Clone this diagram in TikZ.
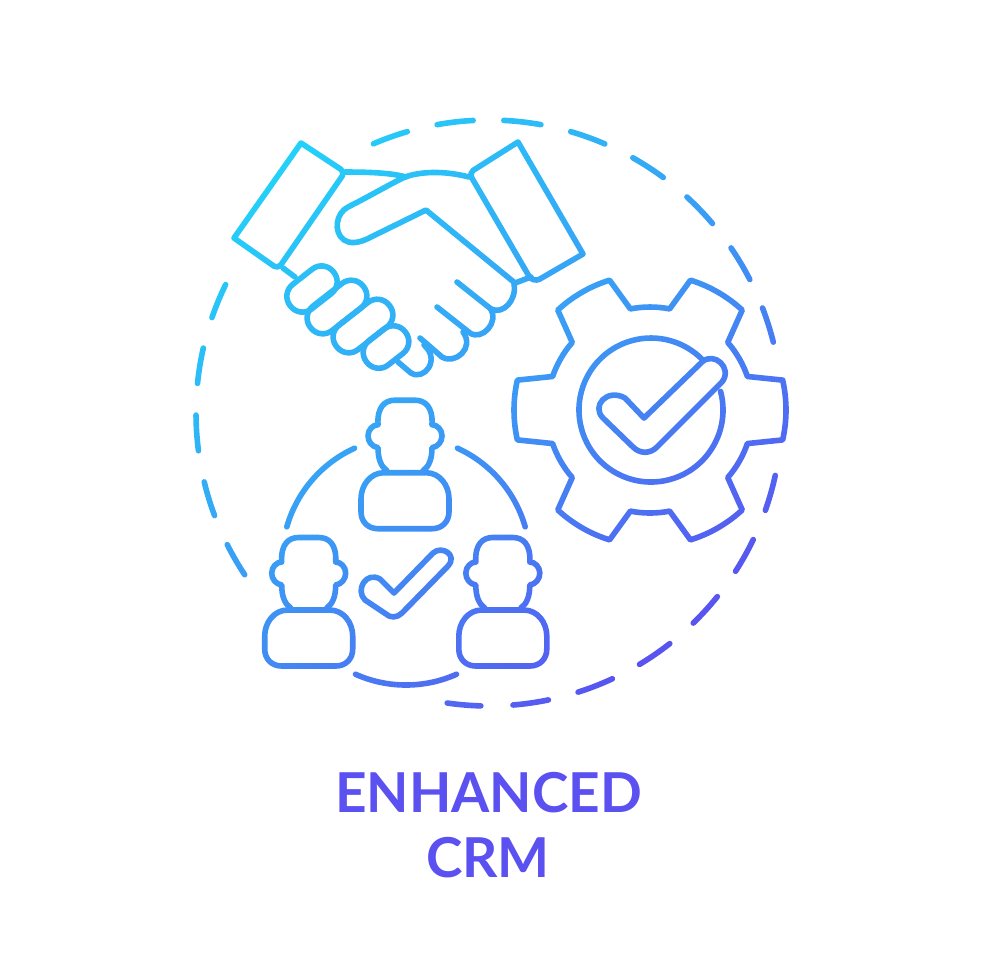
\documentclass[tikz,border=0pt]{standalone}
\usepackage{fontspec}
\setmainfont{Lato}
\usetikzlibrary{fadings}
\definecolor{gradA}{HTML}{22D3F8}
\definecolor{gradB}{HTML}{3A9CF5}
\definecolor{gradC}{HTML}{5B4FF0}
\definecolor{labelcol}{HTML}{5B50F0}
\pgfdeclarehorizontalshading{iconshade}{100bp}{color(0bp)=(gradA); color(29.6bp)=(gradA); color(46bp)=(gradB); color(62.7bp)=(gradC); color(100bp)=(gradC)}
\tikzset{ln/.style={draw=transparent!0,line width=5.6,line cap=round,line join=round}}
\newcommand\fingercap[2]{\draw[ln,shift={(#1)},rotate=38,rounded corners=15] (-#2,-15.5) rectangle (#2,15.5);}
\newcommand\personicon[2]{%
  \begin{scope}[shift={(#1,#2)}]
    % body
    \draw[ln] (-21,0) -- (21,0) .. controls (35,0) and (44,13) .. (44,26) -- (44,39) .. controls (44,49) and (37,56) .. (27,56) -- (-27,56) .. controls (-37,56) and (-44,49) .. (-44,39) -- (-44,26) .. controls (-44,13) and (-35,0) .. (-21,0) -- cycle;
    % head with ears
    \draw[ln] (-18,-2) .. controls (-24,-6) and (-27,-14) .. (-27,-25)
      .. controls (-33,-26) and (-37,-31) .. (-37,-37)
      .. controls (-37,-43) and (-32,-48) .. (-27,-48)
      .. controls (-28,-66) and (-20,-72.5) .. (-10,-72.5)
      -- (10,-72.5)
      .. controls (20,-72.5) and (28,-66) .. (27,-48)
      .. controls (32,-48) and (37,-43) .. (37,-37)
      .. controls (37,-31) and (33,-26) .. (27,-25)
      .. controls (27,-14) and (24,-6) .. (18,-2);
  \end{scope}}
\begin{tikzfadingfrompicture}[name=iconlines,x=1pt,y=-1pt]
  \fill[transparent!100] (0,0) rectangle (980,980);
  % dashed ring
  \foreach \a/\b in {-113.25/-106.2,-100.2/-93.1,-87.1/-79.8,-73.8/-66.7,-60.6/-53.5,-47.5/-40.3,-34.3/-27.1,-21/-14,12.3/19.4,25.6/32.7,38.8/45.8,51.9/59.1,65.1/72.3,78.3/85.3,91.6/98.2,146.5/153.3,159.5/166.4,172.6/179.6,185.8/192.8,199/206}
    \draw[ln,shift={(489,413)}] (\a:293) arc[start angle=\a,end angle=\b,radius=293];
  % handshake
  \draw[ln] (301,143) [rounded corners=5]-- (345,172) -- (278,269) [sharp corners]-- (234,238) -- cycle;
  \draw[ln] (345,172) .. controls (370,172) and (392,173) .. (406,177);
  \draw[ln] (283,268) -- (295,277);
  \draw[ln] (518,142) [rounded corners=5]-- (469,173) [rounded corners=8]-- (533,283) [sharp corners]-- (583,254) -- cycle;
  \draw[ln] (469,177) .. controls (450,172) and (425,170) .. (405,177) .. controls (390,184) and (370,196) .. (348,207) .. controls (336,213) and (333,232) .. (344,240) .. controls (350,244) and (358,243) .. (367,239) -- (426,210) -- (515,283) -- (531,277);
  \draw[ln] (457,282) -- (491,309) .. controls (503,315) and (517,300) .. (514,284);
  \draw[ln] (437,307) -- (470,333) .. controls (482,341) and (500,322) .. (490,308);
  \draw[ln] (420,338) -- (442,357) .. controls (455,365) and (475,348) .. (463,332);
  \draw[ln] (398,362) -- (411,373) .. controls (424,381) and (441,360) .. (424,345);
  \fingercap{312,289}{27.5}
  \fingercap{337,307}{33.5}
  \fingercap{363,326}{33.5}
  \fingercap{386,347}{24.5}
  % gear
  \draw[ln,shift={(650,410)}] (-12.7:136)
    \foreach \k in {0,60,...,300}{
      arc[start angle=\k-12.7,end angle=\k+12.7,radius=136]
      -- ({\k+19}:103)
      arc[start angle=\k+19,end angle=\k+41,radius=103]
      -- ({\k+47.3}:136)
    };
  \draw[ln,shift={(651,410)}] (-15:72) arc[start angle=-15,end angle=316,radius=72];
  \draw[ln] (644,418) -- (702,362) .. controls (714,351) and (733,368) .. (722,382) -- (657,447) .. controls (650,454) and (640,454) .. (633,447) -- (603,418) .. controls (591,406) and (607,388) .. (625,398) -- cycle;
  % people ring
  \draw[ln,shift={(406,561)}] (196:124) arc[start angle=196,end angle=245.5,radius=124];
  \draw[ln,shift={(406,561)}] (-65.5:124) arc[start angle=-65.5,end angle=-16,radius=124];
  \draw[ln,shift={(406,561)}] (66:124) arc[start angle=66,end angle=114,radius=124];
  \personicon{405}{472.7}
  \personicon{308.7}{610}
  \personicon{502.8}{610}
  \draw[ln] (394,593) -- (433,553) .. controls (442,545) and (458,555) .. (448,566) -- (402,613) .. controls (397,618) and (390,618) .. (386,614) -- (365,600) .. controls (355,590) and (366,571) .. (380,579) -- cycle;
\end{tikzfadingfrompicture}
\begin{document}
\begin{tikzpicture}[x=1pt,y=-1pt]
  \useasboundingbox (0,0) rectangle (980,980);
  \fill[white] (0,0) rectangle (980,980);
  \shade[shading=iconshade,shading angle=-51.7,path fading=iconlines,fit fading=false,fading transform={shift={(490,490)}}] (0,0) rectangle (980,980);
  \node[anchor=base,inner sep=0pt,text=labelcol,font=\fontsize{55}{60}\selectfont\bfseries] (title1) at (488.5,812) {ENHANCED};
  \node[anchor=base,inner sep=0pt,text=labelcol,font=\fontsize{55}{60}\selectfont\bfseries] (title2) at (488,877) {CRM};
\end{tikzpicture}
\end{document}
